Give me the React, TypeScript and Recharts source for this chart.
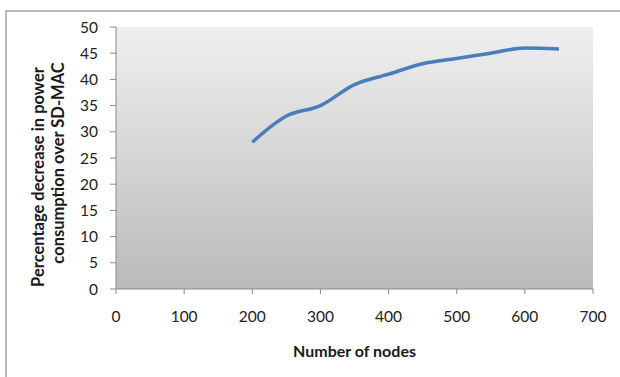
import { LineChart, Line, XAxis, YAxis, CartesianGrid } from 'recharts';

const nodes = [200, 250, 300, 350, 400, 450, 500, 550, 600, 650];
const decrease = [28, 33, 35, 39, 41, 43, 44, 45, 46, 45.8];
const xTicks = [0, 100, 200, 300, 400, 500, 600, 700];
const yTicks = [0, 5, 10, 15, 20, 25, 30, 35, 40, 45, 50];

const data = nodes.map((n, i) => ({ nodes: n, value: decrease[i] }));

const FONT = 'Lato, "Open Sans", sans-serif';

// two-line rotated title on the left, like Excel wraps it
function YTitle(props: any) {
  const vb = props.viewBox || { x: 0, y: 0, width: 0, height: 0 };
  const cy = vb.y + vb.height / 2 + 7;
  const common = {
    fontFamily: FONT,
    fontSize: 16.5,
    fontWeight: 700,
    fill: '#1a1a1a',
    textAnchor: 'middle' as const,
    dominantBaseline: 'central' as const,
  };
  return (
    <g>
      <text {...common} x={38} y={cy + 12} transform={`rotate(-90 38 ${cy + 12})`}>
        Percentage decrease in power
      </text>
      <text {...common} x={58} y={cy - 2} transform={`rotate(-90 58 ${cy - 2})`}>
        consumption over SD-MAC
      </text>
    </g>
  );
}

export default function App() {
  return (
    <div
      style={{
        position: 'absolute',
        top: 0,
        left: 0,
        width: 620,
        height: 377,
        overflow: 'hidden',
        background: '#fff',
      }}
    >
      <div
        style={{
          position: 'absolute',
          left: 5,
          top: 10,
          width: 700,
          height: 500,
          borderLeft: '2px solid #b8b8b8',
          borderTop: '2px solid #b8b8b8',
        }}
      />
      <LineChart
        width={620}
        height={377}
        data={data}
        margin={{ top: 27, right: 27, bottom: 20, left: 0 }}
        style={{ position: 'absolute', top: 0, left: 0 }}
      >
        <defs>
          <linearGradient id="plotBg" x1="0" y1="0" x2="0" y2="1">
            <stop offset="0%" stopColor="#efefef" />
            <stop offset="100%" stopColor="#bababa" />
          </linearGradient>
        </defs>
        <CartesianGrid fill="url(#plotBg)" stroke="none" horizontal={false} vertical={false} />
        <XAxis
          dataKey="nodes"
          type="number"
          domain={[0, 700]}
          ticks={xTicks}
          height={68}
          tickSize={5}
          tickMargin={17}
          stroke="#8a8a8a"
          tick={{ fill: '#222', fontSize: 15.5, fontFamily: FONT }}
          label={{
            value: 'Number of nodes',
            position: 'insideBottom',
            offset: 0,
            fill: '#1a1a1a',
            fontSize: 16,
            fontWeight: 700,
            fontFamily: FONT,
          }}
        />
        <XAxis
          xAxisId="top"
          orientation="top"
          type="number"
          domain={[0, 700]}
          height={0}
          tick={false}
          tickLine={false}
          stroke="#505050"
        />
        <YAxis
          type="number"
          domain={[0, 50]}
          ticks={yTicks}
          width={116}
          tickSize={6}
          tickMargin={12}
          interval={0}
          stroke="#8a8a8a"
          tick={{ fill: '#222', fontSize: 15.5, fontFamily: FONT }}
          label={YTitle}
        />
        <YAxis
          yAxisId="right"
          orientation="right"
          type="number"
          domain={[0, 50]}
          width={0}
          tick={false}
          tickLine={false}
          stroke="#505050"
        />
        <Line
          type="monotone"
          dataKey="value"
          stroke="#4a7ebb"
          strokeWidth={3.5}
          dot={false}
          isAnimationActive={false}
        />
      </LineChart>
    </div>
  );
}
